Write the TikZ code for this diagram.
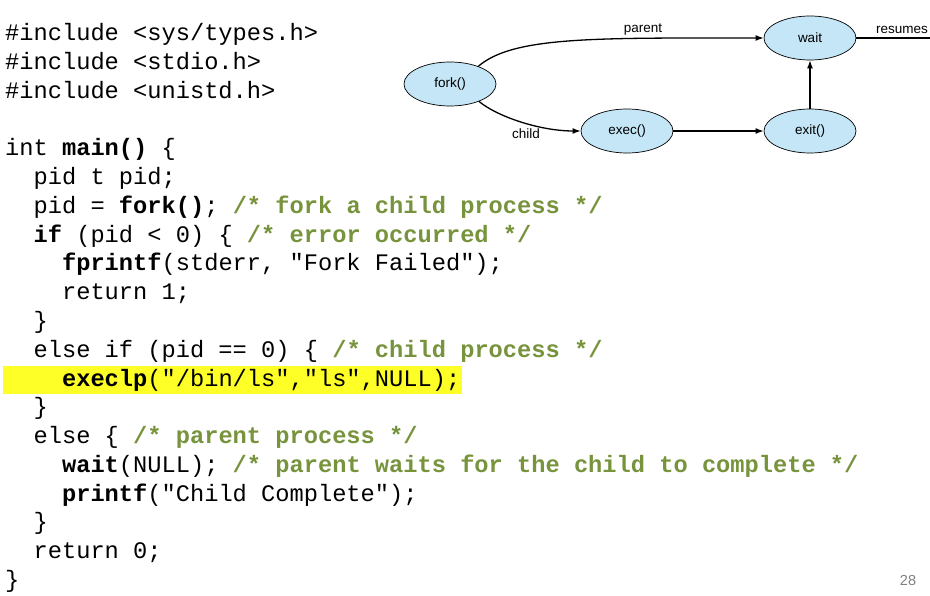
\documentclass[tikz,border=0pt]{standalone}
\usepackage{fontspec}
\usetikzlibrary{arrows.meta, positioning}
\usetikzlibrary{shapes.geometric}
\newfontfamily\codefont{Liberation Mono}
\newfontfamily\diagfont{Liberation Sans}
\definecolor{cmtgreen}{RGB}{119,147,60}
\definecolor{procblue}{RGB}{196,230,246}
\definecolor{hlyellow}{RGB}{255,255,40}
\newcommand\cw{14.22}
\newcommand\lh{28.75}
\newcommand\cmt[1]{{\color{cmtgreen}\bfseries #1}}
\newcommand\kw[1]{{\bfseries #1}}

\begin{document}
\begin{tikzpicture}[x=1pt, y=-1pt,
    code/.style={anchor=base west, inner sep=0pt, font=\codefont\fontsize{23.7}{28}\selectfont},
    proc/.style={ellipse, draw, line width=0.7pt, fill=procblue, minimum width=92pt, minimum height=44pt, inner sep=0pt, font=\diagfont\fontsize{13.5}{16}\selectfont},
    lbl/.style={inner sep=0pt, font=\diagfont\fontsize{13.5}{16}\selectfont},
    flow/.style={line width=1.3pt, -{Latex[length=8pt, width=6pt]}}]

    \useasboundingbox (0, 0) rectangle (930, 596);

    % Highlighted line
    \fill[hlyellow] (3, 366) rectangle (462, 394);

    % Code
    \node at (5, 41) [code] (l1) {\#include <sys/types.h>};
    \node at (5, 41 + \lh) [code] (l2) {\#include <stdio.h>};
    \node at (5, 41 + 2*\lh) [code] (l3) {\#include <unistd.h>};
    \node at (5, 41 + 4*\lh) [code] (l5) {int \kw{main()} \{};
    \node at (5 + 2*\cw, 41 + 5*\lh) [code] (l6) {pid t pid;};
    \node at (5 + 2*\cw, 41 + 6*\lh) [code] (l7) {pid = \kw{fork()}; \cmt{/* fork a child process */}};
    \node at (5 + 2*\cw, 41 + 7*\lh) [code] (l8) {\kw{if} (pid < 0) \{ \cmt{/* error occurred */}};
    \node at (5 + 4*\cw, 41 + 8*\lh) [code] (l9) {\kw{fprintf}(stderr, "Fork Failed");};
    \node at (5 + 4*\cw, 41 + 9*\lh) [code] (l10) {return 1;};
    \node at (5 + 2*\cw, 41 + 10*\lh) [code] (l11) {\}};
    \node at (5 + 2*\cw, 41 + 11*\lh) [code] (l12) {else if (pid == 0) \{ \cmt{/* child process */}};
    \node at (5 + 4*\cw, 41 + 12*\lh) [code] (l13) {\kw{execlp}("/bin/ls","ls",NULL);};
    \node at (5 + 2*\cw, 41 + 13*\lh) [code] (l14) {\}};
    \node at (5 + 2*\cw, 41 + 14*\lh) [code] (l15) {else \{ \cmt{/* parent process */}};
    \node at (5 + 4*\cw, 41 + 15*\lh) [code] (l16) {\kw{wait}(NULL); \cmt{/* parent waits for the child to complete */}};
    \node at (5 + 4*\cw, 41 + 16*\lh) [code] (l17) {\kw{printf}("Child Complete");};
    \node at (5 + 2*\cw, 41 + 17*\lh) [code] (l18) {\}};
    \node at (5 + 2*\cw, 41 + 18*\lh) [code] (l19) {return 0;};
    \node at (5, 41 + 19*\lh) [code] (l20) {\}};

    % Process diagram
    \node at (450, 84) [proc] (fork) {fork()};
    \node at (627, 131) [proc] (exec) {exec()};
    \node at (810, 131) [proc] (exit) {exit()};
    \node at (810, 38) [proc] (wait) {wait};
    \coordinate (resend) at (930, 38);

    \draw[flow] (fork.32) .. controls +(35, -30) and +(-170, 0) .. (wait.west);
    \draw[flow] (fork.-31) .. controls +(18, 15) and +(-41, 0) .. (exec.west);
    \draw[flow] (exec.east) -- (exit.west);
    \draw[flow] (exit.north) -- (wait.south);
    \draw[line width=1.3pt] (wait.east) -- (resend);

    \node at (643, 30) [lbl] (parent) {parent};
    \node at (526, 134) [lbl] (child) {child};
    \node at (902, 30) [lbl] (resumes) {resumes};

    % Slide number
    \node at (908, 581) [lbl, text=gray, font=\diagfont\fontsize{14.5}{17}\selectfont] (pagenum) {28};

\end{tikzpicture}
\end{document}
